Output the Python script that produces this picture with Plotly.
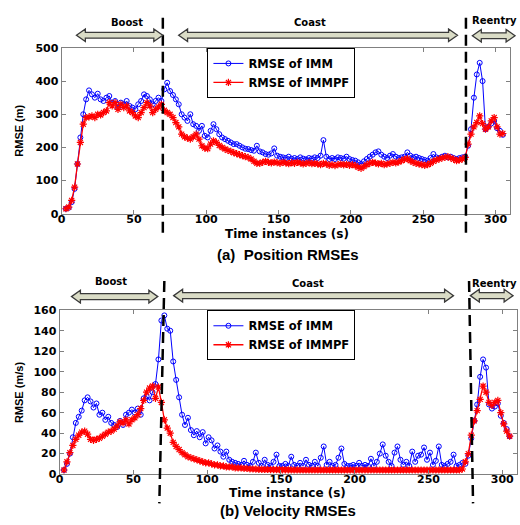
import plotly.graph_objects as go

W, H = 520, 525

# ---------------- data ----------------
t = list(range(3, 306, 2))

pos_imm = [15, 18, 35, 75, 150, 230, 300, 345, 372, 360, 350, 362, 345, 340, 350, 355, 335, 340, 320, 335,
           330, 340, 325, 320, 315, 330, 340, 360, 355, 345, 330, 340, 350, 340, 375, 395, 370, 358, 345, 330,
           300, 290, 280, 300, 270, 265, 250, 265, 235, 230, 250, 270, 255, 240, 230, 225, 220, 215, 210, 210,
           205, 200, 196, 195, 192, 190, 205, 188, 185, 180, 178, 182, 197, 175, 172, 170, 168, 172, 166, 168,
           165, 170, 166, 164, 168, 166, 170, 168, 175, 222, 172, 165, 168, 165, 170, 168, 166, 172, 165, 162,
           160, 155, 150, 158, 165, 172, 178, 185, 188, 178, 172, 168, 175, 180, 172, 168, 170, 172, 185, 175,
           170, 172, 168, 165, 162, 160, 168, 180, 170, 168, 172, 175, 170, 172, 168, 165, 168, 170, 172, 205,
           255, 350, 420, 455, 400, 255, 262, 272, 280, 258, 250, 238]

pos_immpf = [15, 20, 40, 80, 150, 215, 270, 290, 292, 295, 290, 300, 298, 305, 310, 335, 325, 335, 315, 330,
             320, 325, 310, 305, 295, 290, 305, 320, 335, 325, 305, 315, 322, 330, 312, 305, 300, 290, 275, 262,
             240, 232, 228, 225, 232, 240, 225, 205, 198, 196, 210, 220, 215, 206, 200, 195, 191, 188, 184, 181,
             178, 175, 172, 170, 165, 158, 152, 152, 155, 158, 155, 153, 156, 154, 152, 155, 153, 151, 154, 152,
             155, 153, 150, 152, 154, 151, 152, 150, 148, 152, 150, 146, 148, 145, 148, 150, 147, 149, 146, 148,
             145, 140, 137, 142, 148, 152, 155, 153, 150, 152, 148, 150, 152, 155, 153, 156, 160, 164, 166, 160,
             155, 152, 150, 148, 146, 148, 152, 158, 162, 165, 168, 170, 172, 168, 164, 160, 162, 165, 170, 210,
             240, 262, 275, 295, 272, 255, 262, 280, 290, 262, 240, 242]

vel_imm = [4, 10, 20, 36, 50, 56, 62, 72, 75, 71, 65, 69, 58, 60, 53, 56, 50, 48, 46, 52,
           48, 58, 60, 63, 60, 64, 58, 74, 76, 72, 80, 88, 112, 150, 155, 142, 140, 110, 92, 75,
           58, 48, 55, 43, 38, 42, 36, 41, 30, 36, 33, 25, 28, 22, 17, 22, 14, 12, 11, 10,
           9, 13, 9, 8, 12, 21, 11, 8, 14, 9, 8, 12, 19, 8, 8, 10, 8, 17, 9, 8,
           11, 8, 14, 9, 8, 12, 8, 16, 27, 9, 12, 8, 9, 16, 25, 10, 8, 8, 9, 8,
           11, 8, 9, 8, 15, 8, 12, 20, 29, 18, 12, 8, 21, 27, 14, 9, 12, 8, 22, 12,
           18, 19, 26, 14, 21, 9, 13, 27, 9, 8, 10, 12, 19, 8, 9, 11, 10, 18, 35, 52,
           68, 95, 112, 104, 68, 64, 66, 69, 57, 50, 44, 37]

vel_immpf = [4, 12, 21, 28, 34, 38, 41, 42, 39, 34, 33, 34, 35, 37, 39, 41, 42, 44, 47, 51,
             50, 53, 49, 53, 55, 58, 64, 72, 80, 84, 86, 74, 85, 70, 53, 45, 40, 31, 27, 24,
             21, 19, 17, 16, 15, 14, 13, 12, 11, 11, 10, 9, 9, 8, 8, 7, 7, 7, 6, 6,
             6, 5.5, 5.5, 5, 5, 4.8, 4.7, 4.6, 4.5, 4.5, 4.4, 4.4, 4.3, 4.3, 4.2, 4.2, 4.2, 4.1, 4.1, 4.1,
             4, 4, 4, 4, 4, 4, 4, 4, 4, 4, 4, 4, 4, 4, 4, 4, 4, 4, 4, 4,
             4, 4, 4, 4, 4, 4, 4, 4, 4, 4, 4, 4, 4, 4, 4, 4, 4, 4, 4, 4,
             4, 4, 4, 4, 4, 4, 4, 4, 4, 4, 4, 4, 4, 4, 4, 5, 12, 20,
             38, 52, 62, 73, 86, 80, 70, 67, 70, 72, 60, 49, 42, 37]

x_ticks = [0, 50, 100, 150, 200, 250, 300]
pos_ticks = [0, 100, 200, 300, 400, 500]
vel_ticks = [0, 20, 40, 60, 80, 100, 120, 140, 160]
series_names = ["RMSE of IMM", "RMSE of IMMPF"]
phase_names = ["Boost", "Coast", "Reentry"]

# phase boundary (dashed lines) in data units: (x at top, x at bottom)
pos_bounds = [(70, 70), (279.5, 279.5)]
vel_bounds = [(71, 67.6), (277.5, 280.2)]


def px(x):
    return x / W


def py(y):
    return 1 - y / H


BLUE = "#0000ff"
RED = "#ff0000"

fig = go.Figure()


def add_pair(xa, ya, yimm, yimmpf, leg, show):
    fig.add_trace(go.Scatter(
        x=t, y=yimm, mode="lines+markers", name=series_names[0],
        line=dict(color=BLUE, width=1),
        marker=dict(symbol="circle-open", size=5, color=BLUE, line=dict(width=1, color=BLUE)),
        xaxis=xa, yaxis=ya, legend=leg, showlegend=show))
    fig.add_trace(go.Scatter(
        x=t, y=yimmpf, mode="lines+markers", name=series_names[1],
        line=dict(color=RED, width=1.3),
        marker=dict(symbol="asterisk-open", size=6, color=RED, line=dict(width=1.2, color=RED)),
        xaxis=xa, yaxis=ya, legend=leg, showlegend=show))


add_pair("x", "y", pos_imm, pos_immpf, "legend", True)
add_pair("x2", "y2", vel_imm, vel_immpf, "legend2", True)

AXC = "#808080"
tickfont = dict(family="DejaVu Sans", size=11, color="black", weight="bold")
common = dict(showgrid=False, zeroline=False, showline=True, linecolor=AXC, linewidth=1,
              mirror="ticks", ticks="inside", ticklen=4, tickcolor=AXC, tickfont=tickfont)
legfont = dict(family="DejaVu Sans", size=11.5, color="black", weight="bold")

fig.update_layout(
    width=W, height=H, margin=dict(l=0, r=0, t=0, b=0),
    paper_bgcolor="white", plot_bgcolor="white",
    xaxis=dict(domain=[px(58), px(510)], range=[0, 310], tickvals=x_ticks, anchor="y",
               ticklabelstandoff=-5, **common),
    yaxis=dict(domain=[py(213), py(43)], range=[0, 500], tickvals=pos_ticks, anchor="x", **common),
    xaxis2=dict(domain=[px(56), px(517)], range=[0, 310], tickvals=x_ticks, anchor="y2",
                ticklabelstandoff=-5, **common),
    yaxis2=dict(domain=[py(480), py(312)], range=[0, 160], tickvals=vel_ticks, anchor="x2", **common),
    legend=dict(x=px(205), y=py(43), xanchor="left", yanchor="top", bgcolor="white",
                bordercolor="black", borderwidth=1, font=legfont,
                tracegroupgap=0, itemwidth=30),
    legend2=dict(x=px(205), y=py(312), xanchor="left", yanchor="top", bgcolor="white",
                 bordercolor="black", borderwidth=1, font=legfont,
                 tracegroupgap=0, itemwidth=30),
    showlegend=True,
)

shapes = []
# dashed phase boundaries
for (xt, xb) in pos_bounds:
    shapes.append(dict(type="line", xref="x", yref="paper", x0=xt, x1=xb, y0=py(12), y1=py(238),
                       line=dict(color="black", width=2.5, dash="11px,6px")))
for (xt, xb) in vel_bounds:
    shapes.append(dict(type="line", xref="x2", yref="paper", x0=xt, x1=xb, y0=py(282), y1=py(510),
                       line=dict(color="black", width=2.5, dash="11px,6px")))


def arrow(x1, x2, yc, sh=3, hh=6.5, hl=9):
    pts = [(x1, yc), (x1 + hl, yc - hh), (x1 + hl, yc - sh), (x2 - hl, yc - sh), (x2 - hl, yc - hh),
           (x2, yc), (x2 - hl, yc + hh), (x2 - hl, yc + sh), (x1 + hl, yc + sh), (x1 + hl, yc + hh)]
    path = "M " + " L ".join(f"{px(a):.5f},{py(b):.5f}" for a, b in pts) + " Z"
    return dict(type="path", xref="paper", yref="paper", path=path,
                fillcolor="#dadcc6", line=dict(color="#3a3a3a", width=1.3))


for (a, b, y) in [(73, 160, 30), (176, 457, 30), (472, 515, 30.5),
                  (68, 155, 298), (171, 453, 297), (470, 513, 297)]:
    shapes.append(arrow(a, b, y))

fig.update_layout(shapes=shapes)

ann = []
lblfont = dict(family="DejaVu Sans", size=10, color="black", weight="bold")
for name, x, y in [(phase_names[0], 124, 17), (phase_names[1], 308, 17), (phase_names[2], 494, 15),
                   (phase_names[0], 108, 282), (phase_names[1], 306, 285), (phase_names[2], 494, 285)]:
    ann.append(dict(text=name, x=px(x), y=py(y), xref="paper", yref="paper", showarrow=False,
                    xanchor="center", yanchor="middle", font=lblfont))

axtfont = dict(family="DejaVu Sans", size=12, color="black", weight="bold")
ann.append(dict(text="Time instances (s)", x=px(285), y=py(234), xref="paper", yref="paper",
                showarrow=False, xanchor="center", yanchor="middle", font=axtfont, borderpad=0))
ann.append(dict(text="Time instance (s)", x=px(286), y=py(499), xref="paper", yref="paper",
                showarrow=False, xanchor="center", yanchor="middle", font=axtfont, borderpad=0))
ytfont = dict(family="Liberation Sans", size=11, color="black", weight="bold")
ann.append(dict(text="RMSE (m)", x=px(15), y=py(128), xref="paper", yref="paper", textangle=-90,
                showarrow=False, xanchor="center", yanchor="middle", font=ytfont))
ann.append(dict(text="RMSE (m/s)", x=px(15), y=py(396), xref="paper", yref="paper", textangle=-90,
                showarrow=False, xanchor="center", yanchor="middle", font=ytfont))
capfont = dict(family="Liberation Sans", size=15, color="black", weight="bold")
ann.append(dict(text="(a)  Position RMSEs", x=px(286), y=py(255), xref="paper", yref="paper",
                showarrow=False, xanchor="center", yanchor="middle", font=capfont))
ann.append(dict(text="(b) Velocity RMSEs", x=px(286), y=py(517), xref="paper", yref="paper",
                showarrow=False, xanchor="center", yanchor="middle", font=capfont))
fig.update_layout(annotations=ann)

fig.write_html(
    "out.html",
    config={"displayModeBar": False},
    post_script="document.body.style.margin='0';document.body.style.overflow='hidden';",
)
